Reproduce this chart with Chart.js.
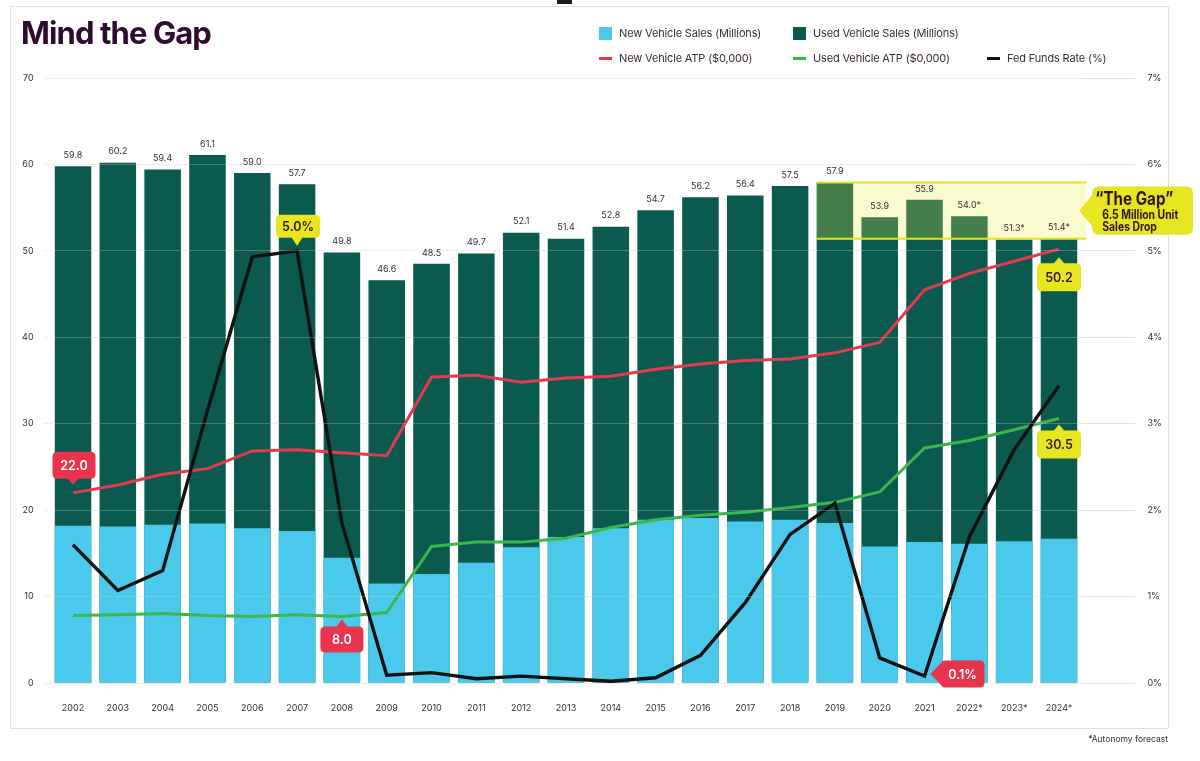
<!DOCTYPE html>
<html><head><meta charset="utf-8">
<script src="https://cdn.jsdelivr.net/npm/chart.js@4.4.1/dist/chart.umd.min.js"></script>
<style>
html,body{margin:0;padding:0;background:#fff;width:1200px;height:761px;overflow:hidden;font-family:Inter,"Noto Sans",sans-serif;}
#card{position:absolute;left:10px;top:6px;width:1159px;height:723px;border:1.5px solid #e3e3e3;box-sizing:border-box;}
#topmark{position:absolute;left:557px;top:0;width:15px;height:4px;background:#1d1d1d;}
h1{position:absolute;left:21px;top:15px;margin:0;font:700 31px Inter,sans-serif;color:#2d0c2e;letter-spacing:-0.9px;line-height:36px;}
canvas{position:absolute;left:0;top:0;}
.leg{position:absolute;font:400 11px Inter,sans-serif;color:#3d2b3d;white-space:nowrap;line-height:14px;letter-spacing:-0.15px;}
.sw{position:absolute;width:13px;height:13px;}
.ln{position:absolute;width:13px;height:3px;}
#foot{position:absolute;right:32px;top:734px;font:400 8.5px Inter,sans-serif;color:#3d2b3d;}
</style></head>
<body>
<div id="card"></div>
<div id="topmark"></div>
<canvas id="c" width="1200" height="761"></canvas>
<h1>Mind the Gap</h1>
<div class="sw" style="left:599px;top:27px;background:#4bc9ec"></div><div class="leg" style="left:619px;top:26px">New Vehicle Sales (Millions)</div>
<div class="sw" style="left:793px;top:27px;background:#0b5a50"></div><div class="leg" style="left:813px;top:26px">Used Vehicle Sales (Millions)</div>
<div class="ln" style="left:599px;top:57px;background:#e5394f"></div><div class="leg" style="left:619px;top:51px">New Vehicle ATP ($0,000)</div>
<div class="ln" style="left:793px;top:57px;background:#3cb54a"></div><div class="leg" style="left:813px;top:51px">Used Vehicle ATP ($0,000)</div>
<div class="ln" style="left:987px;top:57px;background:#111"></div><div class="leg" style="left:1007px;top:51px">Fed Funds Rate (%)</div>
<div id="foot">*Autonomy forecast</div>
<script>
const years = ['2002','2003','2004','2005','2006','2007','2008','2009','2010','2011','2012','2013','2014','2015','2016','2017','2018','2019','2020','2021','2022*','2023*','2024*'];
const newSales = [18.2,18.1,18.3,18.45,17.9,17.6,14.5,11.5,12.6,13.9,15.7,16.9,17.9,18.9,19.1,18.7,18.9,18.5,15.8,16.3,16.1,16.4,16.7];
const usedSales = [59.8,60.2,59.4,61.1,59.0,57.7,49.8,46.6,48.5,49.7,52.1,51.4,52.8,54.7,56.2,56.4,57.5,57.9,53.9,55.9,54.0,51.3,51.4];
const newATP = [22.0,22.9,24.15,24.8,26.85,27.0,26.65,26.3,35.4,35.6,34.8,35.3,35.5,36.3,36.9,37.3,37.5,38.2,39.4,45.5,47.4,48.8,50.2];
const usedATP = [7.8,7.9,8.05,7.8,7.7,7.9,7.7,8.15,15.8,16.3,16.3,16.75,18.0,18.9,19.4,19.75,20.3,20.9,22.1,27.2,28.05,29.3,30.6];
const fedRate = [1.6,1.07,1.3,3.15,4.93,5.0,1.85,0.09,0.12,0.05,0.08,0.05,0.02,0.06,0.32,0.93,1.72,2.08,0.29,0.08,1.69,2.7,3.44];
const leftTicks = [0,10,20,30,40,50,60,70];
const rightTicks = ['0%','1%','2%','3%','4%','5%','6%','7%'];
const gapText = ['\u201CThe Gap\u201D','6.5 Million Unit','Sales Drop'];
const gapFrom = 17, gapTo = 22;

const RED = '#e8344c', YEL = '#e7e51f';
const callouts = [
  {ds:2, i:0, text:'22.0', dir:'down', off:8, ph:6, w:43, h:27, fill:RED, color:'#fff'},
  {ds:3, i:6, text:'8.0', dir:'up', off:3, ph:7, w:43, h:26, fill:RED, color:'#fff'},
  {ds:4, i:5, text:'5.0%', dir:'down', off:5, ph:8, w:44, h:23, fill:YEL, color:'#2b1d10'},
  {ds:2, i:22, text:'50.2', dir:'up', off:8, ph:6, w:44, h:28, fill:YEL, color:'#2b1d10'},
  {ds:3, i:22, text:'30.5', dir:'up', off:6, ph:6, w:44, h:28, fill:YEL, color:'#2b1d10'},
  {ds:4, i:19, text:'0.1%', dir:'left', off:6, ph:10, w:44, h:27, fill:RED, color:'#fff'}
];

function rr(ctx,x,y,w,h,r){ctx.moveTo(x+r,y);ctx.lineTo(x+w-r,y);ctx.quadraticCurveTo(x+w,y,x+w,y+r);ctx.lineTo(x+w,y+h-r);ctx.quadraticCurveTo(x+w,y+h,x+w-r,y+h);ctx.lineTo(x+r,y+h);ctx.quadraticCurveTo(x,y+h,x,y+h-r);ctx.lineTo(x,y+r);ctx.quadraticCurveTo(x,y,x+r,y);}

function drawCallout(ctx, px, py, c){
  let bx, by, tx=px, ty=py;
  ctx.save();
  ctx.fillStyle = c.fill;
  ctx.beginPath();
  if(c.dir==='down'){ ty = py - c.off; by = ty - c.ph - c.h; bx = tx - c.w/2 + 1;
    rr(ctx,bx,by,c.w,c.h,5); ctx.fill(); ctx.beginPath();
    ctx.moveTo(tx-6,by+c.h-1); ctx.lineTo(tx,ty); ctx.lineTo(tx+6,by+c.h-1); ctx.closePath(); ctx.fill();
  } else if(c.dir==='up'){ ty = py + c.off; by = ty + c.ph; bx = tx - c.w/2;
    rr(ctx,bx,by,c.w,c.h,5); ctx.fill(); ctx.beginPath();
    ctx.moveTo(tx-6,by+1); ctx.lineTo(tx,ty); ctx.lineTo(tx+6,by+1); ctx.closePath(); ctx.fill();
  } else { tx = px + c.off; ty = py - 2; bx = tx + c.ph; by = ty - c.h/2;
    rr(ctx,bx,by,c.w,c.h,5); ctx.fill(); ctx.beginPath();
    ctx.moveTo(bx+1,by+2); ctx.lineTo(tx,ty); ctx.lineTo(bx+1,by+c.h-2); ctx.closePath(); ctx.fill();
  }
  ctx.fillStyle = c.color; ctx.font = '600 12.5px Inter, sans-serif';
  ctx.textAlign='center'; ctx.textBaseline='middle';
  ctx.fillText(c.text, bx + c.w/2, by + c.h/2 + 1);
  ctx.restore();
}

const overlay = {
  id:'overlay',
  afterDraw(chart){
    const ctx = chart.ctx;
    const used = chart.getDatasetMeta(1).data;
    const y = chart.scales.y;
    // gap box
    const b0 = used[gapFrom], b1 = used[gapTo];
    const left = b0.x - b0.width/2, right = b1.x + b1.width/2 + 9;
    const top = y.getPixelForValue(usedSales[gapFrom]);
    const bot = y.getPixelForValue(usedSales[gapTo]);
    ctx.save();
    ctx.fillStyle = 'rgba(230,235,60,0.26)';
    ctx.fillRect(left, top, right-left, bot-top);
    ctx.strokeStyle = '#e2e41e'; ctx.lineWidth = 2;
    ctx.beginPath(); ctx.moveTo(left, top); ctx.lineTo(right, top); ctx.moveTo(left, bot); ctx.lineTo(right, bot); ctx.stroke();
    // bar labels
    ctx.fillStyle = '#3d2b3d'; ctx.font = '400 9px Inter, sans-serif';
    ctx.textAlign = 'center'; ctx.textBaseline = 'middle';
    used.forEach((bar, i) => {
      const t = usedSales[i].toFixed(1) + (years[i].endsWith('*') ? '*' : '');
      ctx.fillText(t, bar.x, bar.y - 11);
    });
    // gap callout
    const cy = (top+bot)/2, tipX = right - 7, bl = tipX + 13, br = 1193, ct = top + 4, cb = bot - 4;
    ctx.fillStyle = YEL;
    ctx.beginPath(); rr(ctx, bl, ct, br-bl, cb-ct, 7); ctx.fill();
    ctx.beginPath(); ctx.moveTo(bl+2, ct+6); ctx.lineTo(tipX, cy); ctx.lineTo(bl+2, cb-6); ctx.closePath(); ctx.fill();
    ctx.fillStyle = '#2a1a12'; ctx.textAlign='left'; ctx.textBaseline='middle';
    ctx.font = '700 18.5px Inter, sans-serif'; ctx.fillText(gapText[0], bl+3, ct+13, 78);
    ctx.font = '700 12.5px Inter, sans-serif';
    const w1 = ctx.measureText(gapText[1]).width, k = 76 / w1;
    ctx.fillText(gapText[1], bl+10, ct+29, 76);
    ctx.fillText(gapText[2], bl+10, ct+41, ctx.measureText(gapText[2]).width * k);
    ctx.restore();
    // value callouts
    callouts.forEach(c => {
      const p = chart.getDatasetMeta(c.ds).data[c.i];
      drawCallout(ctx, p.x, p.y, c);
    });
  }
};

const tickColor = '#3d2b3d';
new Chart(document.getElementById('c'), {
  data: {
    labels: years,
    datasets: [
      {type:'bar', label:'New Vehicle Sales (Millions)', data:newSales, backgroundColor:'#4bc9ec', order:3, yAxisID:'y', barPercentage:0.815, categoryPercentage:1},
      {type:'bar', label:'Used Vehicle Sales (Millions)', data:usedSales, backgroundColor:'#0b5a50', order:4, yAxisID:'y', barPercentage:0.815, categoryPercentage:1},
      {type:'line', label:'New Vehicle ATP ($0,000)', data:newATP, borderColor:'#e5394f', borderWidth:3, pointRadius:0, tension:0, order:1, yAxisID:'y'},
      {type:'line', label:'Used Vehicle ATP ($0,000)', data:usedATP, borderColor:'#3cb54a', borderWidth:3, pointRadius:0, tension:0, order:1, yAxisID:'y'},
      {type:'line', label:'Fed Funds Rate (%)', data:fedRate, borderColor:'#111111', borderWidth:3.4, pointRadius:0, tension:0, order:0, yAxisID:'y2'}
    ]
  },
  options: {
    responsive:false, animation:false,
    layout:{padding:{left:0,right:0,top:78,bottom:0}},
    plugins:{legend:{display:false}, tooltip:{enabled:false}},
    scales:{
      x:{type:'category', stacked:true, offset:true,
         grid:{display:false, drawTicks:false}, border:{display:false},
         ticks:{color:tickColor, font:{size:9, family:'Inter'}, padding:20, maxRotation:0, autoSkip:false},
         afterFit(s){ s.height = 78; }},
      y:{position:'left', stacked:false, min:0, max:70,
         afterBuildTicks(s){ s.ticks = leftTicks.map(v => ({value:v})); },
         ticks:{color:tickColor, font:{size:9, family:'Inter'}, padding:10},
         grid:{color:'rgba(205,205,205,0.32)', lineWidth:1, tickLength:7, z:1},
         border:{display:false},
         afterFit(s){ s.width = 50.6; }},
      y2:{position:'right', min:0, max:7,
         afterBuildTicks(s){ s.ticks = rightTicks.map((t,i) => ({value:i})); },
         ticks:{color:tickColor, font:{size:9, family:'Inter'}, padding:12, callback:(v,i)=>rightTicks[i]},
         grid:{drawOnChartArea:false, color:'rgba(205,205,205,0.55)', tickLength:54},
         border:{display:false},
         afterFit(s){ s.width = 118.6; }}
    }
  },
  plugins:[overlay]
});
</script>
</body></html>
